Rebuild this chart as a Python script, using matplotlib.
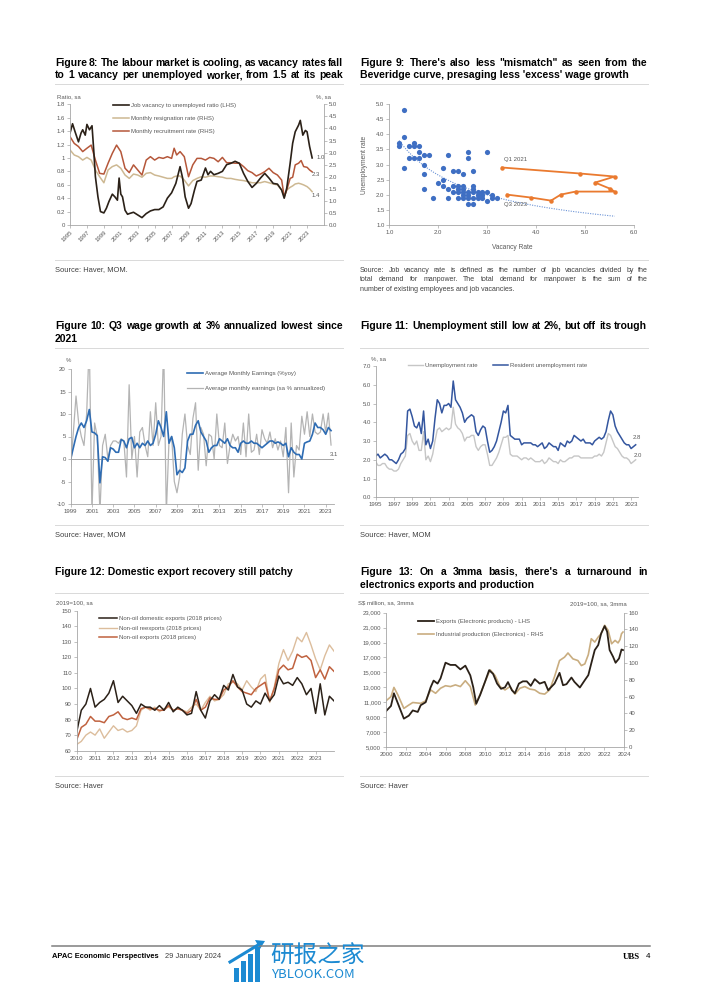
import numpy as np
import matplotlib
matplotlib.use("Agg")
import matplotlib.pyplot as plt
from matplotlib.lines import Line2D
from matplotlib.patches import Rectangle, Polygon
from matplotlib.ticker import FuncFormatter

# ---------------------------------------------------------------- data
# Figure 8: labour market (ratio on LHS, rates on RHS)
fig8_ratio_dates = [1995.0, 1995.3, 1995.6, 1996.0, 1996.3, 1996.5, 1996.8, 1997.0, 1997.3, 1997.6,
                    1997.8, 1998.0, 1998.3, 1998.6, 1999.0, 1999.3, 1999.6, 2000.0, 2000.3, 2000.6,
                    2000.8, 2001.0, 2001.2, 2001.5, 2001.8, 2002.0, 2002.5, 2003.0, 2003.5, 2004.0,
                    2004.5, 2005.0, 2005.5, 2006.0, 2006.5, 2007.0, 2007.5, 2008.0, 2008.3, 2008.6,
                    2009.0, 2009.3, 2009.7, 2010.0, 2010.5, 2011.0, 2011.3, 2011.6, 2012.0, 2012.5,
                    2013.0, 2013.5, 2014.0, 2014.5, 2015.0, 2015.5, 2016.0, 2016.5, 2017.0, 2017.5,
                    2018.0, 2018.5, 2019.0, 2019.5, 2020.0, 2020.3, 2020.6, 2021.0, 2021.3, 2021.6,
                    2022.0, 2022.2, 2022.5, 2022.8, 2023.0, 2023.3, 2023.6]
fig8_ratio = [1.37, 1.51, 1.39, 1.24, 1.37, 1.42, 1.34, 1.50, 1.42, 1.48,
              1.12, 0.72, 0.42, 0.20, 0.18, 0.25, 0.35, 0.46, 0.42, 0.37,
              0.70, 0.46, 0.42, 0.22, 0.16, 0.17, 0.19, 0.15, 0.11, 0.17,
              0.21, 0.23, 0.23, 0.27, 0.40, 0.48, 0.62, 0.87, 0.70, 0.42,
              0.25, 0.32, 0.52, 0.65, 0.67, 0.85, 0.75, 0.80, 0.75, 0.77,
              0.80, 0.90, 0.92, 0.95, 0.92, 0.77, 0.65, 0.56, 0.62, 0.70,
              0.77, 0.70, 0.62, 0.61, 0.52, 0.40, 0.55, 0.92, 1.22, 1.39,
              1.49, 1.56, 1.34, 1.41, 1.39, 1.17, 1.00]
fig8_rate_dates = [1995.0, 1995.5, 1996.0, 1996.5, 1997.0, 1997.5, 1998.0, 1998.5, 1999.0, 1999.5,
                   2000.0, 2000.5, 2001.0, 2001.5, 2002.0, 2002.5, 2003.0, 2003.5, 2004.0, 2004.5,
                   2005.0, 2005.5, 2006.0, 2006.5, 2007.0, 2007.3, 2007.6, 2008.0, 2008.5, 2009.0,
                   2009.5, 2010.0, 2010.5, 2011.0, 2011.5, 2012.0, 2012.5, 2013.0, 2013.5, 2014.0,
                   2014.5, 2015.0, 2015.5, 2016.0, 2016.5, 2017.0, 2017.5, 2018.0, 2018.5, 2019.0,
                   2019.5, 2020.0, 2020.3, 2020.6, 2021.0, 2021.3, 2021.6, 2022.0, 2022.3, 2022.6,
                   2023.0, 2023.3, 2023.6]
fig8_resign = [3.11, 2.90, 2.83, 2.69, 2.80, 2.69, 2.28, 2.00, 1.75, 2.28,
               2.42, 2.49, 2.35, 2.07, 1.93, 2.11, 2.07, 1.98, 2.14, 2.17,
               2.07, 2.03, 1.98, 1.93, 1.93, 2.00, 2.03, 2.03, 1.86, 1.62,
               1.84, 1.93, 2.00, 1.98, 2.03, 2.03, 2.00, 1.98, 1.93, 1.93,
               1.89, 1.86, 1.84, 1.80, 1.75, 1.75, 1.75, 1.80, 1.75, 1.70,
               1.66, 1.45, 1.17, 1.45, 1.56, 1.62, 1.70, 1.73, 1.70, 1.66,
               1.59, 1.50, 1.38]
fig8_recruit = [3.66, 3.38, 3.25, 3.04, 3.18, 3.31, 2.69, 2.14, 2.11, 2.56,
                2.97, 3.31, 3.04, 2.35, 2.17, 2.49, 2.28, 2.07, 2.69, 2.83,
                2.69, 2.80, 2.76, 2.83, 2.76, 3.18, 2.90, 3.04, 2.83, 2.00,
                2.49, 2.76, 2.76, 2.69, 2.80, 2.76, 2.62, 2.80, 2.58, 2.58,
                2.56, 2.56, 2.42, 2.25, 2.17, 2.03, 2.11, 2.21, 2.35, 2.17,
                2.07, 1.86, 1.17, 1.45, 1.93, 1.98, 2.49, 2.56, 2.67, 2.42,
                2.39, 2.28, 2.20]

# Figure 9: Beveridge curve
fig9_vacancy = [1.3, 1.3, 1.2, 1.2, 1.4, 1.5, 1.5, 1.6, 1.4, 1.5, 1.6, 1.3, 1.6, 1.7, 1.8, 1.7,
                1.7, 1.7, 1.9, 2.0, 2.1, 2.1, 2.1, 2.2, 2.2, 2.2, 2.3, 2.3, 2.3, 2.4, 2.4, 2.4,
                2.4, 2.4, 2.5, 2.5, 2.5, 2.5, 2.5, 2.6, 2.6, 2.6, 2.6, 2.6, 2.7, 2.7, 2.7, 2.7,
                2.7, 2.7, 2.8, 2.8, 2.8, 2.9, 2.9, 2.9, 3.0, 3.0, 3.0, 3.1, 3.1, 3.2, 2.6, 2.5]
fig9_unemp = [4.8, 3.9, 3.7, 3.6, 3.6, 3.7, 3.6, 3.6, 3.2, 3.2, 3.2, 2.9, 3.4, 3.3, 3.3, 3.0,
              2.7, 2.2, 1.9, 2.4, 2.5, 2.9, 2.3, 3.3, 2.2, 1.9, 2.8, 2.3, 2.1, 2.8, 2.3, 2.2,
              2.1, 1.9, 2.7, 2.3, 2.2, 2.1, 1.9, 3.4, 3.2, 2.0, 1.9, 1.7, 2.8, 2.3, 2.2, 2.1,
              1.9, 1.7, 2.1, 2.0, 1.9, 2.1, 2.0, 1.9, 3.4, 2.1, 1.8, 2.0, 1.9, 1.9, 2.1, 2.0]
fig9_recent_vacancy = [3.3, 4.9, 5.6, 5.2, 5.5, 5.6, 4.8, 4.5, 4.3, 3.9, 3.4]
fig9_recent_unemp = [2.9, 2.7, 2.6, 2.4, 2.2, 2.1, 2.1, 2.0, 1.8, 1.9, 2.0]

# Figure 10: wage growth, quarterly from 1999Q1 to 2023Q3
fig10_yoy = [0, 2.5, 5, 7, 8, 7, 8.5, 11, 6, 5.8, 5.2, -5.3, 0.5, 0.3, -0.5, 2.5,
             2.2, 1.5, 1.5, 4.3, 4.0, 2.5, 4.5, 4.8, 2.5, 3.5, 2.5, 3.5, 3.0, 4.0, 3.0, 3.5,
             5.5, 8.5, 7, 5, 10.5, 3.5, 5, 2.5, -3.5, -2.5, -3, -2, 4, 5.5, 5.5, 7.5,
             8.5, 6, 5, 4, 1.5, 2.5, 3, 3, 4.5, 4, 3.5, 4.5, 3, 2.5, 2.5, 1.5,
             3.5, 4, 3.5, 3.5, 4, 3.5, 3.5, 3, 2.5, 3, 3.5, 4, 4, 3.5, 3.8, 3.5,
             3, 3.5, 0.5, 2.5, 1.5, 1, 1, 0, 3.5, 3.8, 4, 5.5, 8, 7, 7, 6.5,
             5.5, 7, 6.3]
fig10_saar = [-1.7, 6, 14, 8, 5, 3, 10, 26, -12, 8, 5, -12, 3, 5.5, 0, 3,
              4, 4, 3.5, 4.5, 4, -4, 16.5, 0, 5, -4, 6, 7, 3, 0.5, 10.5, 3,
              12.5, 3, 5, 25, -12, 4, 5, -5, -7.5, -4, 5.5, 10, 3, 1, 9, 12.5,
              -2.5, 7, 5.5, -1.5, 5.5, 5, 0, 10, 3, 2.5, 8, -1, 3, 5.5, 4, 5,
              1, 8, 0.5, 10, 1.5, 2, 5.5, 1, 6.5, 4.5, 3.5, 6, 2.5, 4.5, 2, 4,
              0.5, 7, -7.5, 8, -4, 3, 2, 9.5, 5.5, 10.5, 5, 10, 6, 5.5, 6, 10,
              6, 10.2, 3.1]

# Figure 11: unemployment rates, quarterly from 1995Q1 to 2023Q3
fig11_resident = [2.2, 2.3, 2.1, 2.2, 2.3, 2.2, 2.0, 2.0, 1.9, 1.8, 2.0, 2.3,
                  2.4, 2.6, 4.6, 4.7, 4.3, 3.8, 3.7, 4.0, 3.4, 4.6, 2.8, 3.1,
                  2.6, 3.0, 4.2, 5.2, 5.0, 4.5, 4.9, 4.9, 5.0, 4.8, 6.2, 5.2,
                  5.0, 4.8, 4.5, 4.0, 4.2, 4.3, 4.4, 4.3, 3.5, 3.3, 3.6, 3.8,
                  3.7, 3.0, 2.4, 2.5, 2.7, 3.0, 3.5, 4.0, 4.6, 4.5, 4.9, 3.3,
                  3.2, 3.1, 3.1, 3.1, 2.8, 2.9, 2.9, 2.9, 2.9, 2.8, 2.8, 2.7,
                  2.8, 2.9, 2.6, 2.7, 2.9, 2.8, 2.7, 2.7, 2.5, 2.9, 2.8, 2.7,
                  3.0, 2.9, 3.0, 3.3, 3.2, 3.1, 3.0, 3.1, 2.9, 2.9, 2.9, 2.8,
                  3.0, 3.1, 3.2, 3.1, 3.2, 3.5, 4.1, 4.6, 4.4, 3.8, 3.5, 3.3,
                  3.1, 2.9, 2.8, 2.8, 2.6, 2.7, 2.8]
fig11_total = [1.9, 1.7, 1.7, 1.8, 1.8, 1.6, 1.5, 1.5, 1.4, 1.4, 1.5, 1.8,
               2.0, 2.2, 3.3, 3.4, 3.0, 2.8, 3.0, 2.5, 2.5, 3.5, 2.0, 2.2,
               1.9, 2.3, 3.0, 3.6, 3.7, 3.5, 3.6, 3.7, 3.6, 3.7, 4.8, 3.9,
               3.7, 3.6, 3.4, 3.0, 3.2, 3.2, 3.3, 3.3, 2.7, 2.5, 2.7, 2.8,
               2.8, 2.3, 1.7, 1.7, 1.9, 2.1, 2.4, 2.8, 3.2, 3.2, 3.3, 2.3,
               2.2, 2.2, 2.2, 2.1, 2.0, 2.1, 2.1, 2.0, 2.1, 2.0, 1.9, 1.9,
               1.9, 2.0, 1.8, 1.9, 2.1, 2.0, 1.9, 1.9, 1.8, 2.0, 1.9, 1.9,
               2.0, 2.1, 2.1, 2.2, 2.2, 2.2, 2.1, 2.1, 2.1, 2.1, 2.1, 2.1,
               2.2, 2.2, 2.3, 2.2, 2.4, 2.9, 3.4, 3.3, 3.0, 2.7, 2.6, 2.4,
               2.2, 2.1, 2.1, 2.0, 1.8, 1.9, 2.0]

# Figure 12: exports, quarterly from 2010Q1 plus Dec 2023
fig12_nodx = [72, 86, 90, 100, 88, 91, 93, 97, 105, 91, 95, 92, 89, 84, 90, 88,
              88, 86, 89, 86, 91, 85, 88, 86, 83, 84, 98, 86, 81, 92, 96, 93,
              102, 99, 109, 101, 99, 90, 88, 92, 90, 97, 92, 96, 108, 103, 104, 102,
              107, 103, 96, 100, 84, 103, 83, 95, 92]
fig12_reexports = [64, 66, 70, 72, 70, 74, 68, 72, 76, 73, 74, 72, 73, 76, 86, 88,
                   86, 88, 85, 87, 88, 86, 87, 86, 85, 88, 90, 86, 91, 95, 92, 93,
                   96, 103, 104, 103, 99, 105, 101, 98, 106, 109, 91, 101, 116, 125, 118, 124,
                   133, 130, 136, 128, 119, 112, 121, 128, 124]
fig12_nonoil = [67, 75, 77, 82, 79, 79, 78, 82, 83, 85, 81, 80, 81, 80, 87, 88,
                87, 87, 86, 86, 89, 86, 87, 86, 84, 86, 93, 86, 88, 94, 93, 93,
                99, 101, 105, 101, 98, 97, 96, 100, 102, 104, 92, 100, 112, 115, 112, 113,
                122, 120, 121, 118, 107, 112, 106, 114, 111]

# Figure 13: electronics exports (LHS) and production (RHS)
fig13_exp_dates = [2000.0, 2000.5, 2000.8, 2001.3, 2001.8, 2002.3, 2002.7, 2003.2, 2003.5, 2004.0,
                   2004.5, 2004.8, 2005.2, 2005.5, 2006.0, 2006.5, 2007.0, 2007.5, 2008.0, 2008.5,
                   2008.8, 2009.1, 2009.5, 2010.0, 2010.4, 2010.8, 2011.2, 2011.6, 2012.0, 2012.3,
                   2012.7, 2013.0, 2013.4, 2013.8, 2014.2, 2014.6, 2015.0, 2015.5, 2016.0, 2016.35,
                   2017.0, 2017.5, 2017.85, 2018.2, 2018.7, 2019.0, 2019.55, 2020.05, 2020.4, 2020.7,
                   2021.05, 2021.4, 2021.7, 2022.05, 2022.3, 2022.55, 2022.9, 2023.15, 2023.5, 2023.75,
                   2023.9]
fig13_exports = [9800, 10500, 12200, 10500, 8800, 9200, 9900, 9700, 10600, 11000,
                 13000, 13900, 13500, 14200, 16300, 16000, 16000, 15400, 15900, 14600,
                 13000, 10800, 12000, 13800, 15300, 14800, 13500, 12800, 13000, 13700,
                 12600, 12200, 13500, 13800, 13800, 13200, 14100, 13500, 13730, 12610,
                 13510, 14940, 13280, 13420, 14310, 13730, 12970, 13960, 14630, 16200,
                 17990, 18660, 20230, 21210, 20450, 17990, 17090, 16290, 16870, 18070,
                 17990]
fig13_ip_dates = [2000.0, 2000.5, 2000.8, 2001.2, 2001.8, 2002.3, 2002.7, 2003.5, 2004.0, 2004.5,
                  2005.0, 2005.5, 2006.0, 2006.5, 2007.0, 2007.5, 2008.0, 2008.5, 2009.0, 2009.5,
                  2010.0, 2010.5, 2011.0, 2011.5, 2012.0, 2012.5, 2013.0, 2013.5, 2014.0, 2014.5,
                  2015.0, 2015.5, 2016.0, 2016.5, 2017.0, 2017.5, 2018.0, 2018.35, 2018.85, 2019.35,
                  2019.7, 2020.05, 2020.4, 2020.7, 2021.05, 2021.4, 2021.7, 2022.05, 2022.4, 2022.75,
                  2023.1, 2023.4, 2023.6, 2023.75, 2023.9]
fig13_ip = [55, 60, 71, 62, 46, 50, 53, 52, 55, 68,
            64, 70, 73, 72, 74, 72, 79, 72, 50, 63,
            78, 92, 85, 72, 68, 72, 63, 70, 72, 69,
            68, 64, 63, 68, 84, 103, 107, 112, 105, 103,
            97, 99, 110, 129, 125, 131, 135, 145, 139, 123,
            127, 124, 128, 135, 137]

# ---------------------------------------------------------------- styling
W, H = 702, 992
plt.rcParams['font.family'] = ['Liberation Sans', 'DejaVu Sans']
plt.rcParams['axes.unicode_minus'] = False

AXIS_GRAY = '#a6a6a6'
LABEL_GRAY = '#595959'
TEXT_DARK = '#404040'
TICK_FS = 4.3
TITLE_FS = 7.5
SOURCE_FS = 5.4
DARK = '#2b2118'


def fx(x):
    return x / W


def fy(y):
    return 1 - y / H


def box(x0, y0, x1, y1):
    return [fx(x0), fy(y1), (x1 - x0) / W, (y1 - y0) / H]


def style(ax, spines=('left', 'bottom')):
    for name, sp in ax.spines.items():
        sp.set_visible(name in spines)
        sp.set_color(AXIS_GRAY)
        sp.set_linewidth(0.6)
    ax.tick_params(labelsize=TICK_FS, colors=AXIS_GRAY, labelcolor=LABEL_GRAY,
                   length=2, width=0.5, pad=1.5)
    ax.patch.set_visible(False)


def legend(ax, handles, labels, x, y, **kw):
    opts = dict(loc='upper left', bbox_to_anchor=(fx(x), fy(y)),
                bbox_transform=ax.figure.transFigure, frameon=False,
                fontsize=TICK_FS, labelcolor=LABEL_GRAY, borderpad=0,
                borderaxespad=0, handletextpad=0.3, handlelength=2.7)
    opts.update(kw)
    return ax.legend(handles, labels, **opts)


def text_block(fig, lines, x0, x1, y0, dy, justify, **kw):
    """Draw lines of text, spreading words over [x0, x1] where justify is set."""
    renderer = fig.canvas.get_renderer()
    for i, (line, just) in enumerate(zip(lines, justify)):
        y = fy(y0 + i * dy)
        if not just:
            fig.text(fx(x0), y, line, va='center', **kw)
            continue
        words = line.split(' ')
        items = [fig.text(0, y, w, va='center', **kw) for w in words]
        widths = [t.get_window_extent(renderer).width for t in items]
        gap = (x1 - x0 - sum(widths)) / (len(words) - 1)
        pos = x0
        for t, w in zip(items, widths):
            t.set_x(fx(pos))
            pos += w + gap


def hline(fig, x0, x1, y, color='#d9d9d9', lw=0.7):
    fig.add_artist(Line2D([fx(x0), fx(x1)], [fy(y), fy(y)], color=color, lw=lw))


def note(fig, x, y, s, **kw):
    fig.text(fx(x), fy(y), s, fontsize=TICK_FS, color=LABEL_GRAY, va='center', **kw)


fig = plt.figure(figsize=(W / 100, H / 100), dpi=100)
fig.patch.set_facecolor('white')

title_kw = dict(fontsize=TITLE_FS, fontweight='bold', color='black')
src_kw = dict(fontsize=SOURCE_FS, color=TEXT_DARK)

# ---------------------------------------------------------------- Figure 8
text_block(fig, ["Figure 8: The labour market is cooling, as vacancy rates fall",
                 "to 1 vacancy per unemployed worker, from 1.5 at its peak"],
           55, 343, 63, 12.5, [True, True], **title_kw)
hline(fig, 55, 343, 84)
ax8 = fig.add_axes(box(70, 104.3, 324, 225))
ax8r = ax8.twinx()
ax8.set_zorder(ax8r.get_zorder() + 1)
l_res, = ax8r.plot(fig8_rate_dates, fig8_resign, color='#cdb892', lw=1.1)
l_rec, = ax8r.plot(fig8_rate_dates, fig8_recruit, color='#b5573a', lw=1.1)
l_rat, = ax8.plot(fig8_ratio_dates, fig8_ratio, color=DARK, lw=1.2)
ax8.set_xlim(1995, 2025)
ax8.set_ylim(0, 1.8)
ax8r.set_ylim(0, 5)
ax8.set_yticks(np.arange(0, 1.81, 0.2))
ax8.yaxis.set_major_formatter(FuncFormatter(lambda v, p: f"{v:g}"))
ax8r.set_yticks(np.arange(0, 5.01, 0.5))
ax8r.yaxis.set_major_formatter(FuncFormatter(lambda v, p: f"{v:.1f}"))
ax8.set_xticks(range(1995, 2024, 2))
style(ax8, ('left', 'bottom'))
style(ax8r, ('right',))
ax8.set_xticklabels([str(y) for y in range(1995, 2024, 2)], rotation=45,
                    ha='right', rotation_mode='anchor')
legend(ax8, [l_rat, l_res, l_rec],
       ['Job vacancy to unemployed ratio (LHS)', 'Monthly resignation rate (RHS)',
        'Monthly recruitment rate (RHS)'], 113, 103, labelspacing=1.33)
ax8.text(2024.1, 1.0, '1.0', fontsize=TICK_FS, color=LABEL_GRAY, va='center')
ax8r.text(2023.6, 2.1, '2.3', fontsize=TICK_FS, color=LABEL_GRAY, va='center')
ax8r.text(2023.5, 1.22, '1.4', fontsize=TICK_FS, color=LABEL_GRAY, va='center')
note(fig, 57, 97, 'Ratio, sa')
note(fig, 324, 97, '%, sa', ha='center')
hline(fig, 55, 343, 260)
fig.text(fx(55), fy(270), 'Source: Haver, MOM.', va='center', **src_kw)

# ---------------------------------------------------------------- Figure 9
text_block(fig, ['Figure 9: There\'s also less "mismatch" as seen from the',
                 "Beveridge curve, presaging less 'excess' wage growth"],
           360, 648, 63, 12.5, [True, False], **title_kw)
hline(fig, 360, 648, 84)
ax9 = fig.add_axes(box(389.3, 104.3, 634.3, 224.7))
ax9.scatter(fig9_vacancy, fig9_unemp, s=14, color='#3f6fc3', lw=0, zorder=3)
# power trend line fitted on the scatter
b, log_a = np.polyfit(np.log(fig9_vacancy), np.log(fig9_unemp), 1)
trend_x = np.linspace(min(fig9_vacancy), 5.6, 50)
ax9.plot(trend_x, np.exp(log_a) * trend_x ** b, color='#6b93d6', lw=0.8, ls=(0, (1, 1.2)))
ax9.plot(fig9_recent_vacancy, fig9_recent_unemp, color='#ea7a2f', lw=1.3, marker='o',
         markersize=2.2, zorder=4)
ax9.set_xlim(1, 6)
ax9.set_ylim(1, 5)
ax9.set_xticks(np.arange(1, 6.01, 1))
ax9.set_yticks(np.arange(1, 5.01, 0.5))
ax9.xaxis.set_major_formatter(FuncFormatter(lambda v, p: f"{v:.1f}"))
ax9.yaxis.set_major_formatter(FuncFormatter(lambda v, p: f"{v:.1f}"))
style(ax9)
ax9.set_ylabel('Unemployment rate', fontsize=4.8, color=LABEL_GRAY)
ax9.set_xlabel('Vacancy Rate', fontsize=4.8, color=LABEL_GRAY)
ax9.yaxis.set_label_coords(-0.085, 0.5)
ax9.xaxis.set_label_coords(0.5, -0.16)
ax9.text(3.35, 3.15, 'Q1 2021', fontsize=TICK_FS, color=LABEL_GRAY, va='center')
ax9.text(3.35, 1.67, 'Q3 2023', fontsize=TICK_FS, color=LABEL_GRAY, va='center')
hline(fig, 360, 648, 260)
text_block(fig, ['Source: Job vacancy rate is defined as the number of job vacancies divided by the',
                 'total demand for manpower. The total demand for manpower is the sum of the',
                 'number of existing employees and job vacancies.'],
           360, 648, 270, 9.8, [True, True, False], fontsize=5.0, color=TEXT_DARK)

# ---------------------------------------------------------------- Figure 10
text_block(fig, ["Figure 10: Q3 wage growth at 3% annualized lowest since", "2021"],
           55, 343, 326, 12.5, [True, False], **title_kw)
hline(fig, 55, 343, 348)
ax10 = fig.add_axes(box(70.7, 369, 333.7, 504))
q10 = 1999 + 0.25 * np.arange(len(fig10_yoy))
ax10.axhline(0, color=AXIS_GRAY, lw=0.7)
l_sa, = ax10.plot(q10, fig10_saar, color='#b4b4b4', lw=0.9)
l_yoy, = ax10.plot(q10, fig10_yoy, color='#2e6cb3', lw=1.2)
ax10.set_xlim(1999, 2023.75)
ax10.set_ylim(-10, 20)
ax10.set_yticks(range(-10, 21, 5))
ax10.set_xticks(range(1999, 2024, 2))
style(ax10)
legend(ax10, [l_yoy, l_sa], ['Average Monthly Earnings (%yoy)',
                             'Average monthly earnings (sa % annualized)'],
       187, 371, labelspacing=1.67)
ax10.text(2023.35, 1.1, '3.1', fontsize=TICK_FS, color=LABEL_GRAY, va='center')
note(fig, 66, 361, '%')
hline(fig, 55, 343, 525)
fig.text(fx(55), fy(535), 'Source: Haver, MOM', va='center', **src_kw)

# ---------------------------------------------------------------- Figure 11
text_block(fig, ["Figure 11: Unemployment still low at 2%, but off its trough"],
           360, 647, 326, 12.5, [True], **title_kw)
hline(fig, 360, 648, 348)
ax11 = fig.add_axes(box(375.7, 366, 638.4, 497.3))
q11 = 1995 + 0.25 * np.arange(len(fig11_total))
l_tot, = ax11.plot(q11, fig11_total, color='#c6c6c6', lw=1.0)
l_resd, = ax11.plot(q11, fig11_resident, color='#34569f', lw=1.1)
ax11.set_xlim(1995, 2023.8)
ax11.set_ylim(0, 7)
ax11.set_yticks(range(0, 8))
ax11.yaxis.set_major_formatter(FuncFormatter(lambda v, p: f"{v:.1f}"))
ax11.set_xticks(range(1995, 2024, 2))
style(ax11)
legend(ax11, [l_tot, l_resd], ['Unemployment rate', 'Resident unemployment rate'],
       408, 363, ncol=2, columnspacing=2.6, handlelength=2.5)
ax11.text(2023.2, 3.2, '2.8', fontsize=TICK_FS, color=LABEL_GRAY, va='center')
ax11.text(2023.3, 2.25, '2.0', fontsize=TICK_FS, color=LABEL_GRAY, va='center')
note(fig, 371, 359, '%, sa')
hline(fig, 360, 648, 525)
fig.text(fx(360), fy(535), 'Source: Haver, MOM', va='center', **src_kw)

# ---------------------------------------------------------------- Figure 12
text_block(fig, ["Figure 12: Domestic export recovery still patchy"],
           55, 343, 572, 12.5, [False], **title_kw)
hline(fig, 55, 343, 593)
ax12 = fig.add_axes(box(76.7, 610.7, 334, 750.7))
q12 = 2010 + 0.25 * np.arange(len(fig12_nodx))
l_re, = ax12.plot(q12, fig12_reexports, color='#dcbd9c', lw=1.0)
l_no, = ax12.plot(q12, fig12_nonoil, color='#c0623f', lw=1.1)
l_nd, = ax12.plot(q12, fig12_nodx, color=DARK, lw=1.1)
ax12.set_xlim(2010, 2024)
ax12.set_ylim(60, 150)
ax12.set_yticks(range(60, 151, 10))
ax12.set_xticks(range(2010, 2024))
style(ax12)
legend(ax12, [l_nd, l_re, l_no], ['Non-oil domestic exports (2018 prices)',
                                  'Non-oil reexports (2018 prices)',
                                  'Non-oil exports (2018 prices)'],
       99, 616, labelspacing=0.75, handlelength=3.0)
note(fig, 56, 603, '2019=100, sa')
hline(fig, 55, 343, 776)
fig.text(fx(55), fy(786), 'Source: Haver', va='center', **src_kw)

# ---------------------------------------------------------------- Figure 13
text_block(fig, ["Figure 13: On a 3mma basis, there's a turnaround in",
                 "electronics exports and production"],
           360, 648, 572, 12.5, [True, False], **title_kw)
hline(fig, 360, 648, 593)
ax13 = fig.add_axes(box(386, 612.7, 624, 747))
ax13r = ax13.twinx()
ax13.set_zorder(ax13r.get_zorder() + 1)
l_ip, = ax13r.plot(fig13_ip_dates, fig13_ip, color='#c9ad80', lw=1.2)
l_ex, = ax13.plot(fig13_exp_dates, fig13_exports, color=DARK, lw=1.3)
ax13.set_xlim(2000, 2024)
ax13.set_ylim(5000, 23000)
ax13r.set_ylim(0, 160)
ax13.set_yticks(range(5000, 23001, 2000))
ax13.yaxis.set_major_formatter(FuncFormatter(lambda v, p: f"{v:,.0f}"))
ax13r.set_yticks(range(0, 161, 20))
ax13.set_xticks(range(2000, 2025, 2))
style(ax13, ('left', 'bottom'))
style(ax13r, ('right',))
legend(ax13, [l_ex, l_ip], ['Exports (Electronic products) - LHS',
                            'Industrial production (Electronics) - RHS'],
       418, 619, labelspacing=1.33)
note(fig, 358, 603, 'S$ million, sa, 3mma')
note(fig, 627, 604, '2019=100, sa, 3mma', ha='right')
hline(fig, 360, 648, 776)
fig.text(fx(360), fy(786), 'Source: Haver', va='center', **src_kw)

# ---------------------------------------------------------------- footer
hline(fig, 52, 650, 946, color='#7f7f7f', lw=1.1)
fig.text(fx(52), fy(957), 'APAC Economic Perspectives', fontsize=5.4, fontweight='bold',
         color='black', va='center')
fig.text(fx(165), fy(957), '29 January 2024', fontsize=5.4, color=TEXT_DARK, va='center')
fig.text(fx(640), fy(957), 'UBS', fontsize=6.3, fontweight='bold', color='black',
         va='center', ha='right', family=['Liberation Serif'])
fig.text(fx(650), fy(957), '4', fontsize=5.8, color='black', va='center', ha='right')

# watermark
WM = '#1c8ad2'
for bx, top in zip([234, 241, 248, 255], [968, 961, 954, 947]):
    fig.add_artist(Rectangle((fx(bx), fy(982)), 5 / W, (982 - top) / H,
                             transform=fig.transFigure, color=WM, lw=0))
fig.add_artist(Line2D([fx(230), fx(258)], [fy(962), fy(945)], color=WM, lw=2.2))
fig.add_artist(Polygon([[fx(255), fy(940)], [fx(265), fy(941)], [fx(260), fy(949)]],
                       closed=True, transform=fig.transFigure, color=WM, lw=0))
fig.text(fx(270), fy(955), '研报之家', fontsize=17, color=WM, va='center',
         family=['Noto Sans CJK SC', 'DejaVu Sans'])
fig.text(fx(271), fy(975), 'YBLOOK.COM', fontsize=9.5, color=WM, va='center',
         family=['Noto Sans CJK SC', 'DejaVu Sans'])

fig.savefig('out.png', dpi=100, facecolor='white')
